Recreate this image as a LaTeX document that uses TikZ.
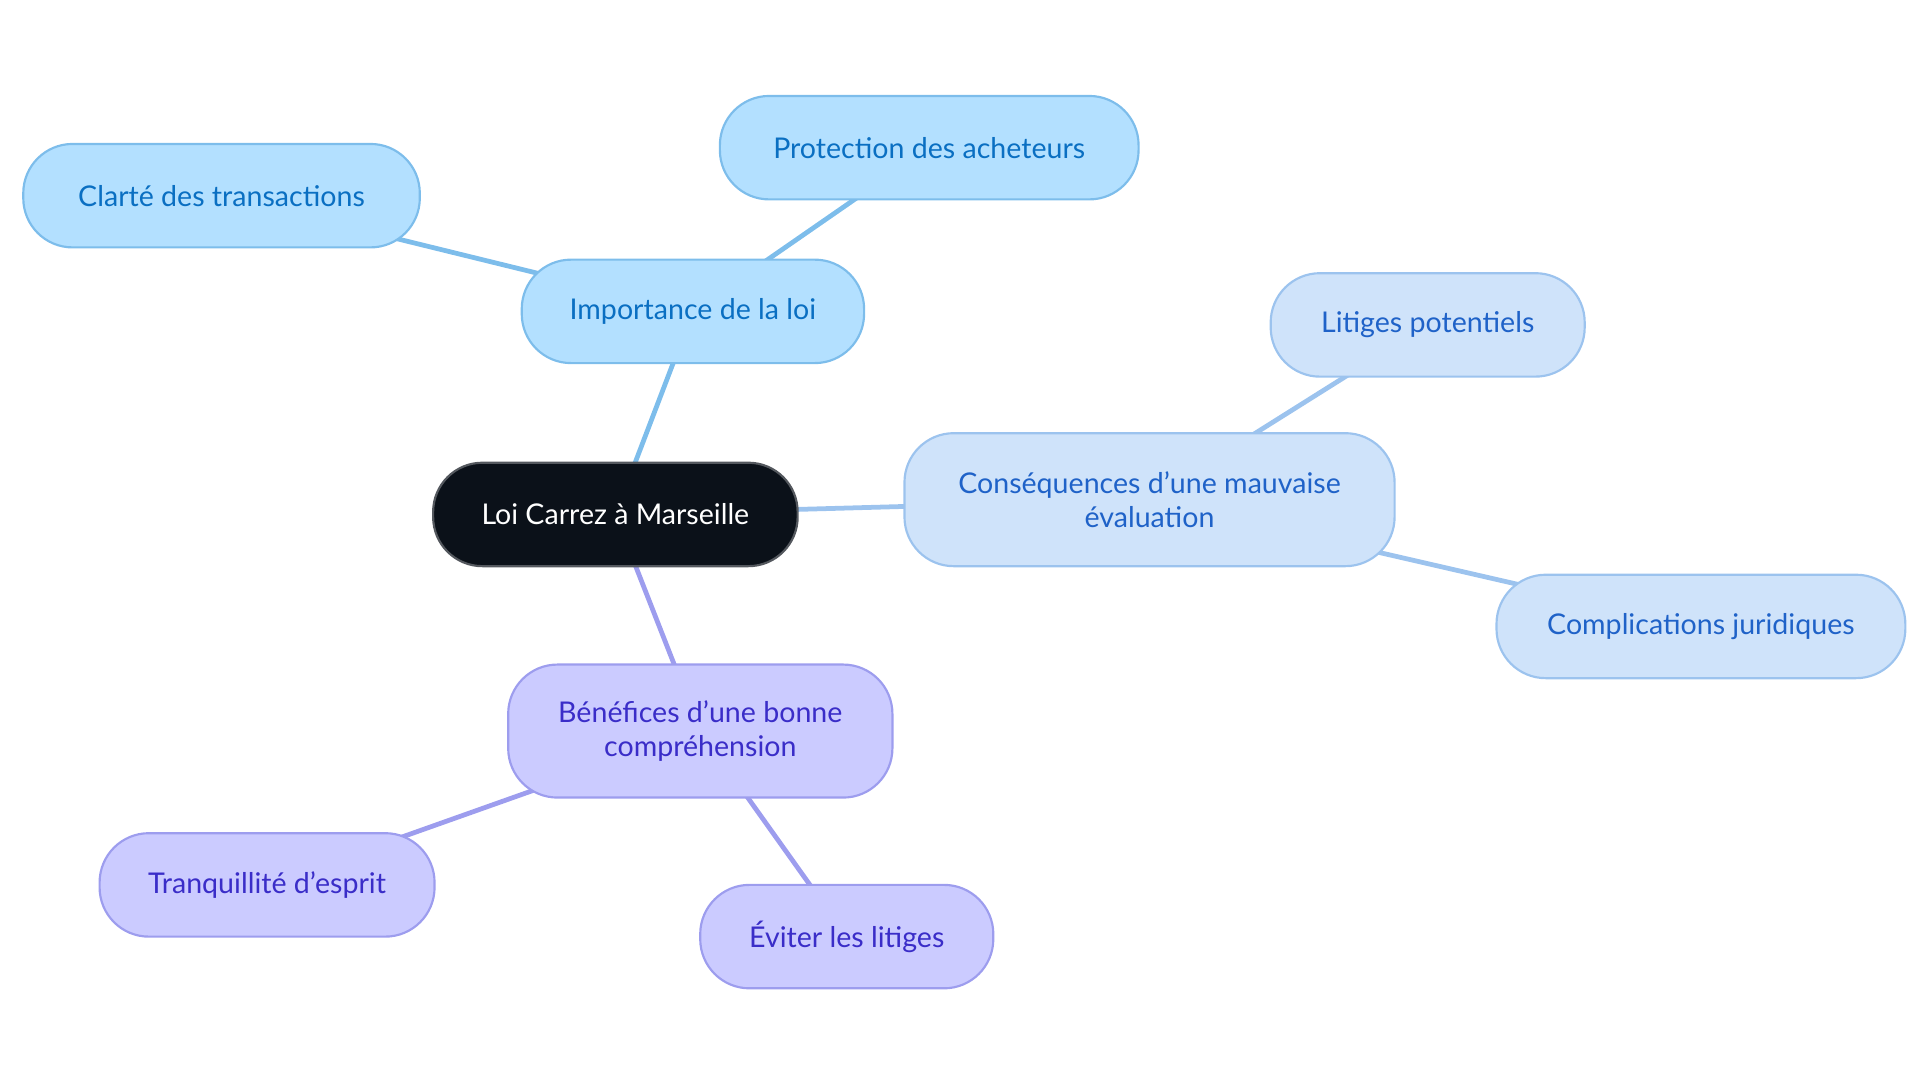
\documentclass[tikz,border=0pt]{standalone}
\usepackage{fontspec}
\setmainfont{Lato}
\definecolor{rootfill}{HTML}{0B1119}
\definecolor{bluefill}{HTML}{B3E0FF}
\definecolor{blueline}{HTML}{7DBDEB}
\definecolor{bluetext}{HTML}{0A6FC2}
\definecolor{skyfill}{HTML}{CFE3FA}
\definecolor{skyline}{HTML}{9CC3EE}
\definecolor{skytext}{HTML}{1F62C8}
\definecolor{violfill}{HTML}{CBCBFF}
\definecolor{violline}{HTML}{9D9DEE}
\definecolor{violtext}{HTML}{3A2DC8}
\tikzset{
  box/.style={rounded corners=0.4cm, minimum height=0.84cm, align=center,
    font=\fontsize{6.6}{8}\selectfont, line width=0.5pt},
  root/.style={box, fill=rootfill, draw=rootfill!70!white, text=white},
  blue/.style={box, fill=bluefill, draw=blueline, text=bluetext},
  sky/.style={box, fill=skyfill, draw=skyline, text=skytext},
  viol/.style={box, fill=violfill, draw=violline, text=violtext},
  link/.style={line width=1.1pt}
}
\begin{document}
\begin{tikzpicture}[x=0.01cm, y=-0.01cm]
  \useasboundingbox (0,0) rectangle (1560,880);

  % edges first, boxes cover them
  \coordinate (r) at (500,418);
  \coordinate (i) at (563,253);
  \coordinate (c) at (934,406);
  \coordinate (b) at (569,594);
  \draw[link, blueline] (r) -- (i);
  \draw[link, blueline] (i) -- (755,120) coordinate (p);
  \draw[link, blueline] (i) -- (180,159) coordinate (t);
  \draw[link, skyline] (r) -- (c);
  \draw[link, skyline] (c) -- (1160,264) coordinate (l);
  \draw[link, skyline] (c) -- (1382,509) coordinate (j);
  \draw[link, violline] (r) -- (b);
  \draw[link, violline] (b) -- (217,719) coordinate (q);
  \draw[link, violline] (b) -- (688,761) coordinate (e);

  \node[root, minimum width=2.96cm] (root) at (r) {Loi Carrez à Marseille};

  \node[blue, minimum width=2.78cm] (imp) at (i) {Importance de la loi};
  \node[blue, minimum width=3.40cm] (prot) at (p) {Protection des acheteurs};
  \node[blue, minimum width=3.22cm] (clar) at (t) {Clarté des transactions};

  \node[sky, minimum width=3.98cm, minimum height=1.08cm] (cons) at (c) {Conséquences d'une mauvaise\\évaluation};
  \node[sky, minimum width=2.55cm] (lit) at (l) {Litiges potentiels};
  \node[sky, minimum width=3.32cm] (comp) at (j) {Complications juridiques};

  \node[viol, minimum width=3.12cm, minimum height=1.08cm] (ben) at (b) {Bénéfices d'une bonne\\compréhension};
  \node[viol, minimum width=2.72cm] (tran) at (q) {Tranquillité d'esprit};
  \node[viol, minimum width=2.38cm] (evit) at (e) {Éviter les litiges};
\end{tikzpicture}
\end{document}
